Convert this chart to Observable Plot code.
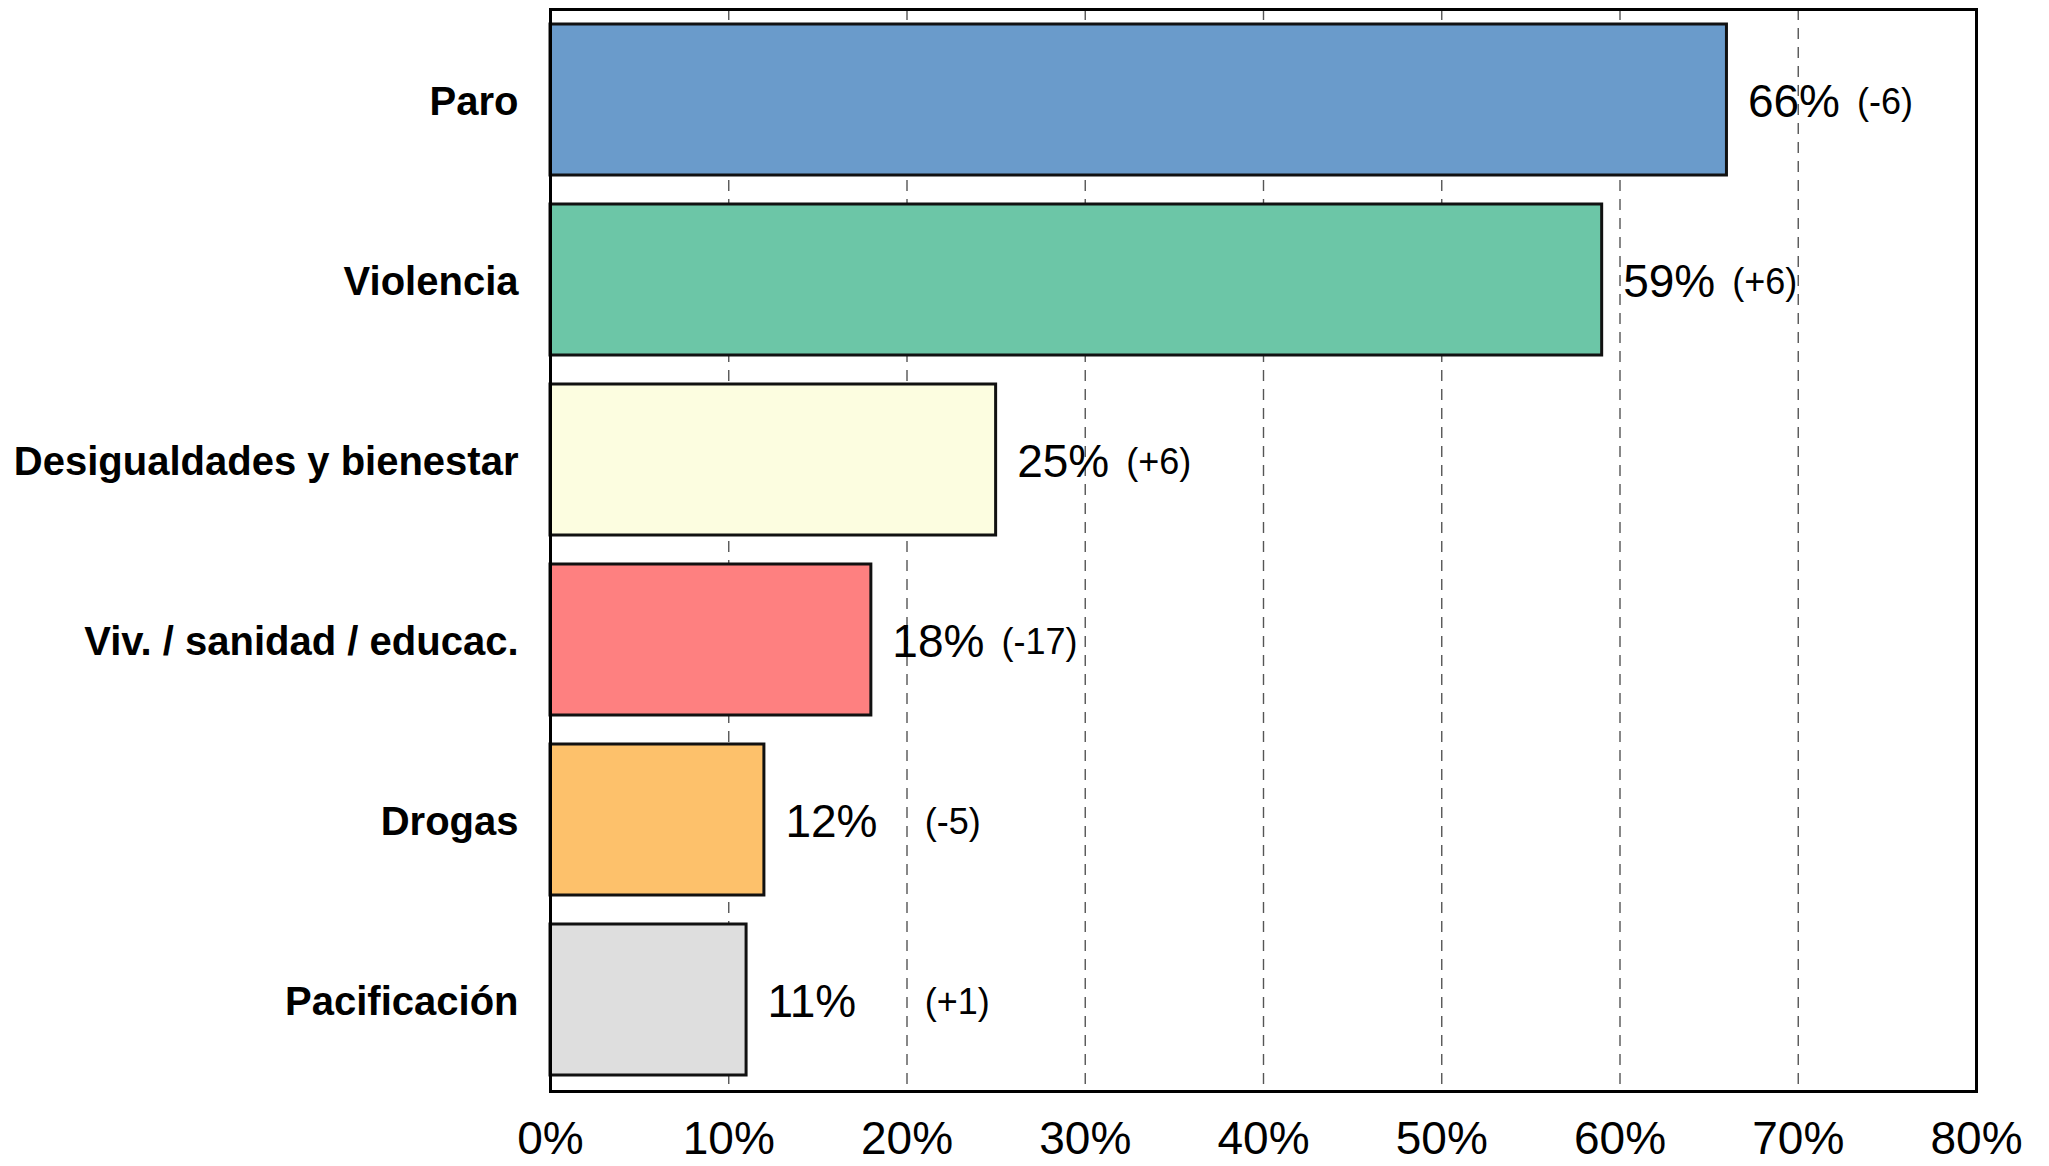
<!DOCTYPE html>
<html>
<head>
<meta charset="utf-8">
<script src="https://cdn.jsdelivr.net/npm/d3@7"></script>
<script src="https://cdn.jsdelivr.net/npm/@observablehq/plot@0.6"></script>
<style>
  html, body { margin: 0; padding: 0; background: white; overflow: hidden; }
  #chart svg g[aria-label="y-axis tick label"] text { font-weight: bold; }
</style>
</head>
<body>
<div id="chart"></div>
<script>
// Data
const categories = ["Paro", "Violencia", "Desigualdades y bienestar", "Viv. / sanidad / educac.", "Drogas", "Pacificación"];
const values = [66, 59, 25, 18, 12, 11];
const changes = ["-6", "+6", "+6", "-17", "-5", "+1"];
const xTicks = [0, 10, 20, 30, 40, 50, 60, 70, 80];

// Style
const palette = ["#6a9bcb", "#6cc6a7", "#fcfde0", "#fe8080", "#fdc16b", "#dedede"];

const data = categories.map((c, i) => ({ category: c, value: values[i], change: changes[i] }));

const chart = Plot.plot({
  width: 2049,
  height: 1166,
  marginTop: 9,
  marginBottom: 75,
  marginLeft: 550,
  marginRight: 73,
  style: { fontFamily: "'Liberation Sans', Arial, sans-serif", background: "white", color: "black" },
  x: { domain: [0, 80], label: null },
  y: { domain: categories, paddingInner: 0.16, paddingOuter: 0.08, label: null },
  color: { domain: categories, range: palette },
  marks: [
    Plot.gridX(xTicks.filter(t => t > 0 && t < 80), { stroke: "#555", strokeOpacity: 1, strokeWidth: 1.4, strokeDasharray: "11,8" }),
    Plot.barX(data, { x: "value", y: "category", fill: "category", stroke: "#111", strokeWidth: 3 }),
    Plot.text(data, { x: "value", y: "category", text: d => d.value + "%", textAnchor: "start", dx: 21, dy: 2, fontSize: 46, fill: "black" }),
    Plot.text(data, { x: d => Math.max(d.value + 7.3, 21), y: "category", text: d => `(${d.change})`, textAnchor: "start", dy: 2, fontSize: 36, fill: "black" }),
    Plot.axisX({ ticks: xTicks, tickFormat: d => d + "%", tickSize: 0, tickPadding: 30, fontSize: 46, label: null }),
    Plot.axisY({ tickSize: 0, tickPadding: 32, fontSize: 40, fontWeight: "bold", dy: 2, label: null }),
    Plot.frame({ stroke: "black", strokeWidth: 3 }),
    Plot.ruleY([0], { frameAnchor: "bottom", stroke: "black", strokeWidth: 4.5 })
  ]
});
document.getElementById("chart").appendChild(chart);
</script>
</body>
</html>
